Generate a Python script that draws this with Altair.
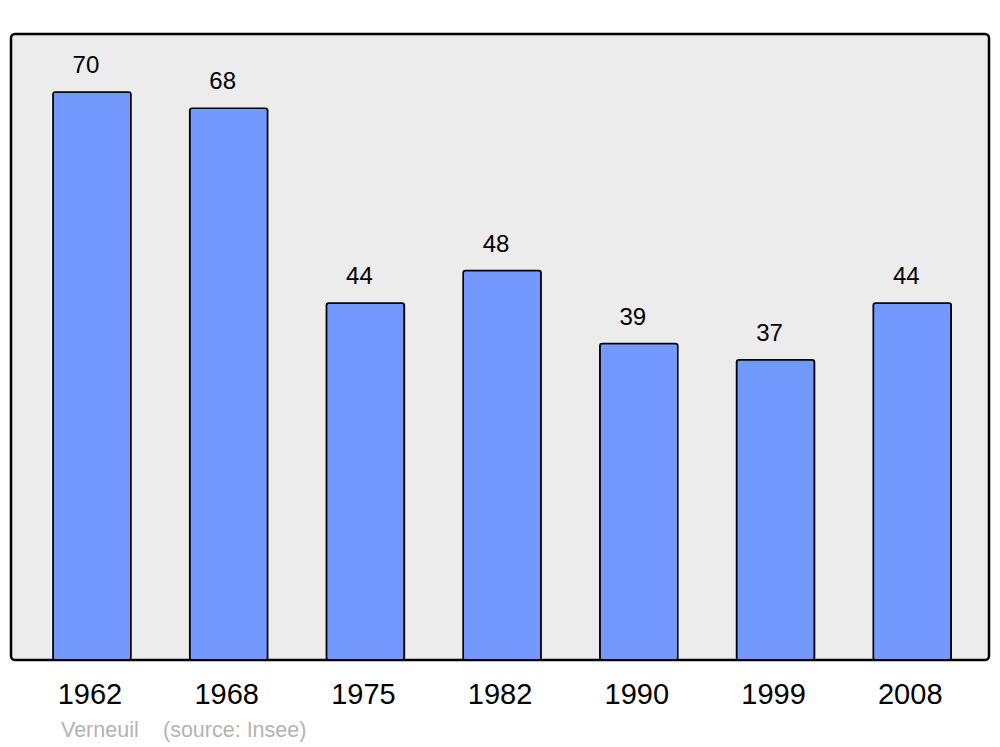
import altair as alt
import pandas as pd

years = ["1962", "1968", "1975", "1982", "1990", "1999", "2008"]
values = [70, 68, 44, 48, 39, 37, 44]
source_texts = ["Verneuil", "(source: Insee)"]

df = pd.DataFrame({"year": years, "value": values})

W, H = 978, 626

x = alt.X("year:N", sort=years,
          scale=alt.Scale(range=[12.6, 969.6], paddingInner=0.43, paddingOuter=0.215),
          axis=alt.Axis(title=None, ticks=False, domain=False, labelAngle=0,
                        labelFontSize=29, labelFont="Liberation Sans", labelColor="black",
                        labelPadding=20, labelOffset=-2))
y = alt.Y("value:Q", scale=alt.Scale(domain=[0, 77.15], nice=False), axis=None)

bars = alt.Chart(df).mark_bar(
    fill="#7399ff", stroke="black", strokeWidth=1.6, cornerRadius=2.5
).encode(x=x, y=y)

labels = alt.Chart(df).mark_text(
    font="Liberation Sans", fontSize=24, color="black", baseline="alphabetic",
    dy=-19, dx=-6
).encode(x=alt.X("year:N", sort=years), y="value:Q", text="value:Q")

src1 = alt.Chart(pd.DataFrame({"t": [source_texts[0]]})).mark_text(
    font="Liberation Sans", fontSize=21.5, color="#b3b3b3", align="left", baseline="alphabetic"
).encode(x=alt.value(50), y=alt.value(703), text="t:N")
src2 = alt.Chart(pd.DataFrame({"t": [source_texts[1]]})).mark_text(
    font="Liberation Sans", fontSize=21.5, color="#b3b3b3", align="left", baseline="alphabetic"
).encode(x=alt.value(152), y=alt.value(703), text="t:N")

chart = (bars + labels + src1 + src2).properties(
    width=W, height=H,
    autosize=alt.AutoSizeParams(type="none"),
    padding={"left": 3, "top": 26, "right": 3, "bottom": 90},
).configure(
    background="white",
    view=alt.ViewConfig(fill="#ececec", stroke="black", strokeWidth=2.5, cornerRadius=4),
)

chart.save("out.html", embed_options={"renderer": "svg", "actions": False})
